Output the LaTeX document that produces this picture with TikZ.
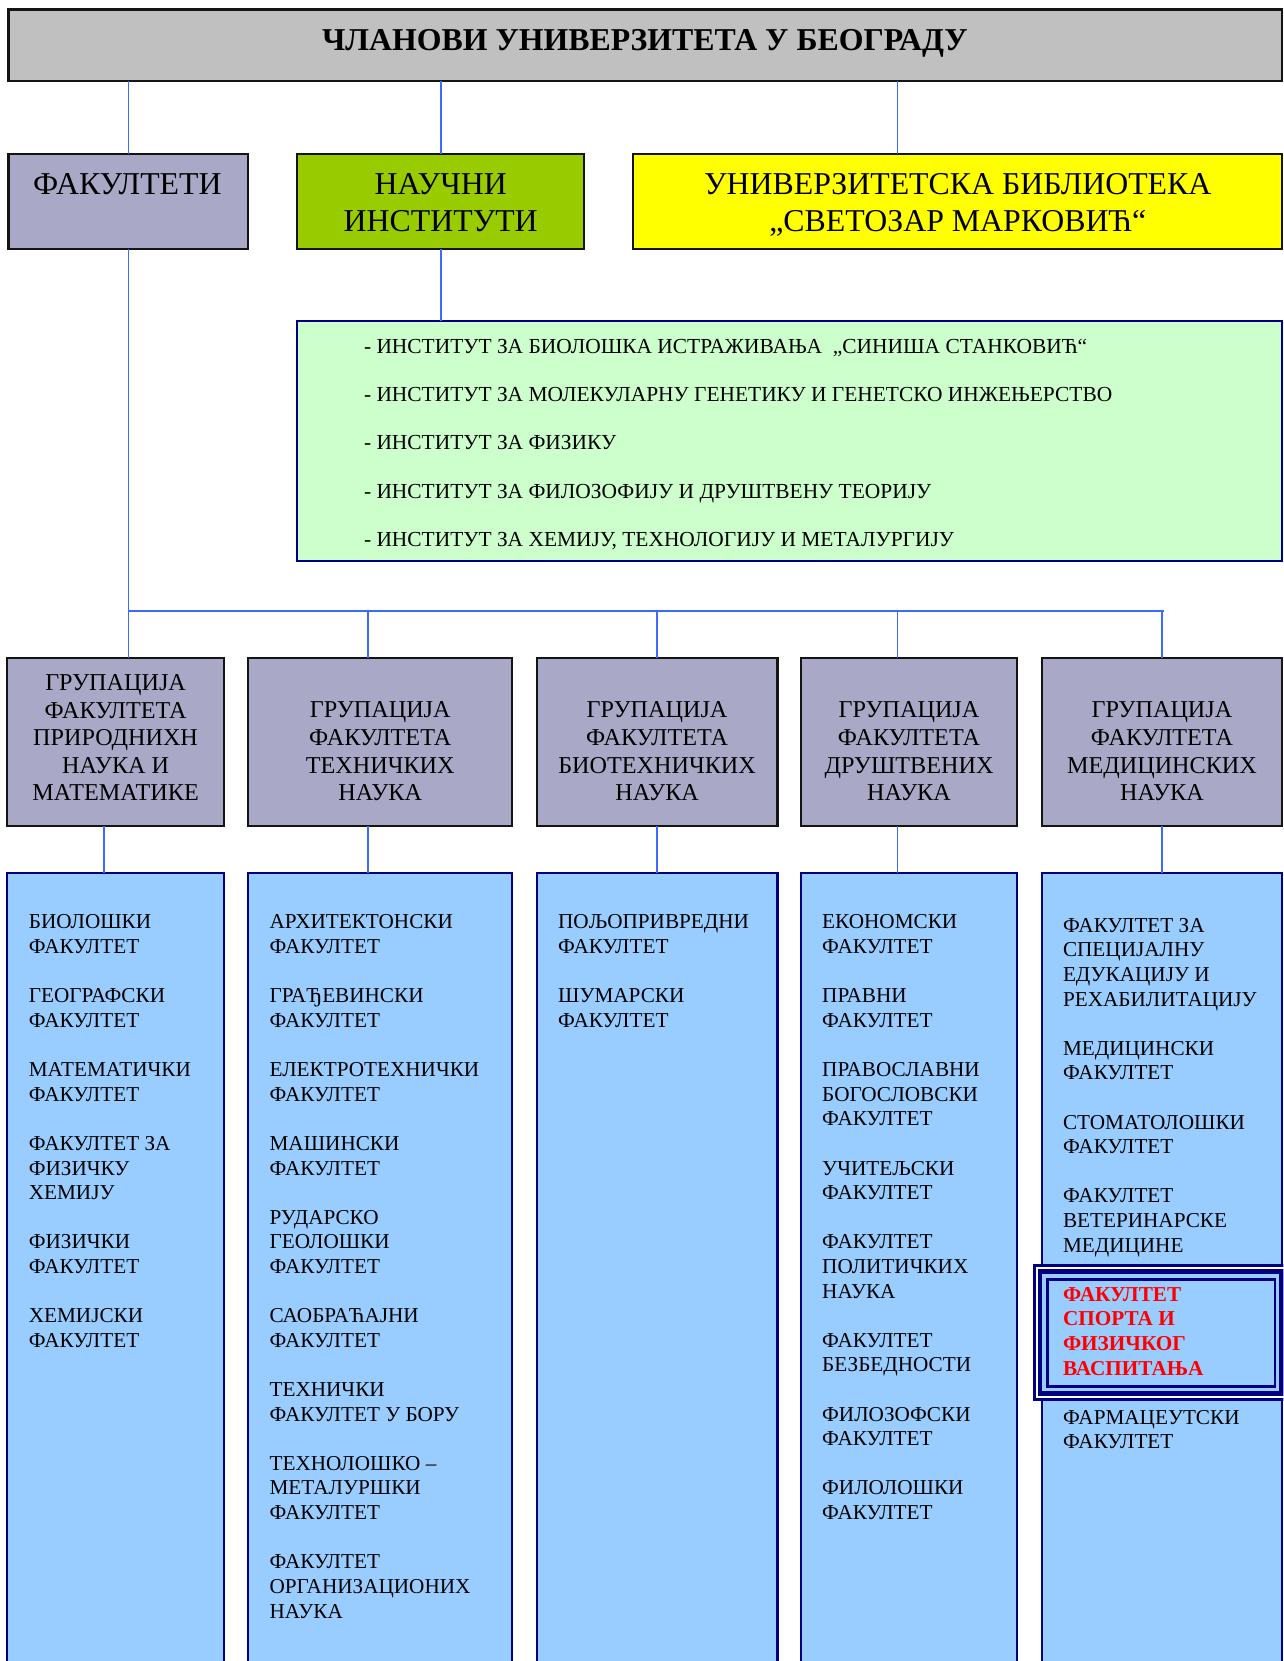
\documentclass[tikz,border=0pt]{standalone}
\usepackage{fontspec}
\setmainfont{Liberation Serif}
\definecolor{titlegray}{RGB}{192,192,192}
\definecolor{lav}{RGB}{169,169,199}
\definecolor{leaf}{RGB}{153,204,0}
\definecolor{mint}{RGB}{204,255,204}
\definecolor{sky}{RGB}{153,204,255}
\definecolor{navy}{RGB}{0,0,128}
\definecolor{wirecol}{RGB}{60,105,255}
\definecolor{edge}{RGB}{20,20,20}
\definecolor{libyellow}{RGB}{255,255,0}
\newcommand{\redbf}[1]{\textcolor{red}{\bfseries #1}}
\begin{document}
\begin{tikzpicture}[x=1pt,y=-1pt,
  blk/.style={rectangle, draw=edge, line width=2pt, inner sep=0pt, outer sep=0pt, anchor=north west},
  listbox/.style={rectangle, draw=navy, line width=2pt, fill=sky, inner sep=0pt, outer sep=0pt, anchor=north west, minimum height=800pt},
  wire/.style={draw=wirecol, line width=1.5pt},
  toptext/.style={font=\fontsize{30}{35}\selectfont, inner sep=0pt, align=center, anchor=north},
  grouptext/.style={font=\fontsize{22.8}{26}\selectfont, inner sep=0pt, align=center, anchor=south},
  listtext/.style={font=\fontsize{20}{23.2}\selectfont, inner sep=0pt, align=left, anchor=north west},
]
\clip (0,0) rectangle (1210,1566);

% top level boxes
\node[blk, fill=titlegray, minimum width=1201pt, minimum height=67pt] (title) at (8,9) {};
\node[blk, fill=lav, minimum width=226pt, minimum height=90pt] (fak) at (8,145) {};
\node[blk, fill=leaf, minimum width=271pt, minimum height=90pt] (inst) at (280,145) {};
\node[blk, fill=libyellow, minimum width=612pt, minimum height=90pt] (lib) at (597,145) {};
\node[blk, draw=navy, fill=mint, minimum width=929pt, minimum height=226pt] (instlist) at (280,303) {};

% group boxes
\node[blk, fill=lav, minimum width=204pt, minimum height=159pt] (g1) at (7,620) {};
\node[blk, fill=lav, minimum width=249pt, minimum height=159pt] (g2) at (234,620) {};
\node[blk, fill=lav, minimum width=227pt, minimum height=159pt] (g3) at (506,620) {};
\node[blk, fill=lav, minimum width=204pt, minimum height=159pt] (g4) at (755,620) {};
\node[blk, fill=lav, minimum width=227pt, minimum height=159pt] (g5) at (982,620) {};

% list boxes
\node[listbox, minimum width=204pt] (l1) at (7,823) {};
\node[listbox, minimum width=249pt] (l2) at (234,823) {};
\node[listbox, minimum width=227pt] (l3) at (506,823) {};
\node[listbox, minimum width=204pt] (l4) at (755,823) {};
\node[listbox, minimum width=227pt] (l5) at (982,823) {};

% connectors
\draw[wire] (fak.north) -- (fak.north |- title.south);
\draw[wire] (inst.north) -- (inst.north |- title.south);
\draw[wire] ([xshift=-57pt]lib.north) -- ([xshift=-57pt]lib.north |- title.south);
\draw[wire] (inst.south) -- (inst.south |- instlist.north);
\draw[wire] (fak.south) -- (fak.south |- g1.north);
\coordinate (busL) at (121,576);
\coordinate (busR) at (1097,576);
\draw[wire] (busL) -- (busR);
\draw[wire] ([xshift=-11.5pt]g2.north) -- ([xshift=-11.5pt]g2.north |- busL);
\draw[wire] (g3.north) -- (g3.north |- busL);
\draw[wire] ([xshift=-11pt]g4.north) -- ([xshift=-11pt]g4.north |- busL);
\draw[wire] (g5.north) -- (g5.north |- busL);
\draw[wire] ([xshift=-11pt]g1.south) -- ([xshift=-11pt]l1.north);
\draw[wire] ([xshift=-11.5pt]g2.south) -- ([xshift=-11.5pt]l2.north);
\draw[wire] (g3.south) -- (l3.north);
\draw[wire] ([xshift=-11pt]g4.south) -- ([xshift=-11pt]l4.north);
\draw[wire] (g5.south) -- (l5.north);

% highlighted frame in the last list
\draw[navy, line width=2.5pt, fill=white] (975.2,1193) rectangle (1214,1319.5);
\draw[navy, line width=4.4pt, fill=sky] (980.5,1198.5) rectangle (1208,1314);
\draw[navy, line width=2.5pt] (987.7,1206) rectangle (1202,1307);

% texts
\node[font=\fontsize{30}{35}\selectfont\bfseries, inner sep=0pt, anchor=base] (titletext) at (608,48) {ЧЛАНОВИ УНИВЕРЗИТЕТА У БЕОГРАДУ};
\node[toptext] (faktext) at (120,163) {ФАКУЛТЕТИ};
\node[toptext] (insttext) at (415.5,163) {НАУЧНИ\\ИНСТИТУТИ};
\node[toptext] (libtext) at (903,163) {УНИВЕРЗИТЕТСКА БИБЛИОТЕКА\\„СВЕТОЗАР МАРКОВИЋ“};

\node[font=\fontsize{20.2}{45.5}\selectfont, inner sep=0pt, align=left, anchor=north west] (instnames) at (343,319.5)
 {- ИНСТИТУТ ЗА БИОЛОШКА ИСТРАЖИВАЊА\ \ „СИНИША СТАНКОВИЋ“\\
  - ИНСТИТУТ ЗА МОЛЕКУЛАРНУ ГЕНЕТИКУ И ГЕНЕТСКО ИНЖЕЊЕРСТВО\\
  - ИНСТИТУТ ЗА ФИЗИКУ\\
  - ИНСТИТУТ ЗА ФИЛОЗОФИЈУ И ДРУШТВЕНУ ТЕОРИЈУ\\
  - ИНСТИТУТ ЗА ХЕМИЈУ, ТЕХНОЛОГИЈУ И МЕТАЛУРГИЈУ};

\node[grouptext] (g1text) at (109,755.3) {ГРУПАЦИЈА\\ФАКУЛТЕТА\\ПРИРОДНИХН\\НАУКА И\\МАТЕМАТИКЕ};
\node[grouptext] (g2text) at (358.5,755.3) {ГРУПАЦИЈА\\ФАКУЛТЕТА\\ТЕХНИЧКИХ\\НАУКА};
\node[grouptext] (g3text) at (619.5,755.3) {ГРУПАЦИЈА\\ФАКУЛТЕТА\\БИОТЕХНИЧКИХ\\НАУКА};
\node[grouptext] (g4text) at (857,755.3) {ГРУПАЦИЈА\\ФАКУЛТЕТА\\ДРУШТВЕНИХ\\НАУКА};
\node[grouptext] (g5text) at (1095.5,755.3) {ГРУПАЦИЈА\\ФАКУЛТЕТА\\МЕДИЦИНСКИХ\\НАУКА};

\node[listtext] (l1text) at (27,862.4) {БИОЛОШКИ\\ФАКУЛТЕТ\\[23.2pt]
ГЕОГРАФСКИ\\ФАКУЛТЕТ\\[23.2pt]
МАТЕМАТИЧКИ\\ФАКУЛТЕТ\\[23.2pt]
ФАКУЛТЕТ ЗА\\ФИЗИЧКУ\\ХЕМИЈУ\\[23.2pt]
ФИЗИЧКИ\\ФАКУЛТЕТ\\[23.2pt]
ХЕМИЈСКИ\\ФАКУЛТЕТ};

\node[listtext] (l2text) at (254,862.4) {АРХИТЕКТОНСКИ\\ФАКУЛТЕТ\\[23.2pt]
ГРАЂЕВИНСКИ\\ФАКУЛТЕТ\\[23.2pt]
ЕЛЕКТРОТЕХНИЧКИ\\ФАКУЛТЕТ\\[23.2pt]
МАШИНСКИ\\ФАКУЛТЕТ\\[23.2pt]
РУДАРСКО\\ГЕОЛОШКИ\\ФАКУЛТЕТ\\[23.2pt]
САОБРАЋАЈНИ\\ФАКУЛТЕТ\\[23.2pt]
ТЕХНИЧКИ\\ФАКУЛТЕТ У БОРУ\\[23.2pt]
ТЕХНОЛОШКО –\\МЕТАЛУРШКИ\\ФАКУЛТЕТ\\[23.2pt]
ФАКУЛТЕТ\\ОРГАНИЗАЦИОНИХ\\НАУКА};

\node[listtext] (l3text) at (526,862.4) {ПОЉОПРИВРЕДНИ\\ФАКУЛТЕТ\\[23.2pt]
ШУМАРСКИ\\ФАКУЛТЕТ};

\node[listtext] (l4text) at (775,862.4) {ЕКОНОМСКИ\\ФАКУЛТЕТ\\[23.2pt]
ПРАВНИ\\ФАКУЛТЕТ\\[23.2pt]
ПРАВОСЛАВНИ\\БОГОСЛОВСКИ\\ФАКУЛТЕТ\\[23.2pt]
УЧИТЕЉСКИ\\ФАКУЛТЕТ\\[23.2pt]
ФАКУЛТЕТ\\ПОЛИТИЧКИХ\\НАУКА\\[23.2pt]
ФАКУЛТЕТ\\БЕЗБЕДНОСТИ\\[23.2pt]
ФИЛОЗОФСКИ\\ФАКУЛТЕТ\\[23.2pt]
ФИЛОЛОШКИ\\ФАКУЛТЕТ};

\node[listtext] (l5text) at (1002,865.4) {ФАКУЛТЕТ ЗА\\СПЕЦИЈАЛНУ\\ЕДУКАЦИЈУ И\\РЕХАБИЛИТАЦИЈУ\\[23.2pt]
МЕДИЦИНСКИ\\ФАКУЛТЕТ\\[23.2pt]
СТОМАТОЛОШКИ\\ФАКУЛТЕТ\\[23.2pt]
ФАКУЛТЕТ\\ВЕТЕРИНАРСКЕ\\МЕДИЦИНЕ\\[23.2pt]
\redbf{ФАКУЛТЕТ}\\\redbf{СПОРТА И}\\\redbf{ФИЗИЧКОГ}\\\redbf{ВАСПИТАЊА}\\[23.2pt]
ФАРМАЦЕУТСКИ\\ФАКУЛТЕТ};
\end{tikzpicture}
\end{document}
